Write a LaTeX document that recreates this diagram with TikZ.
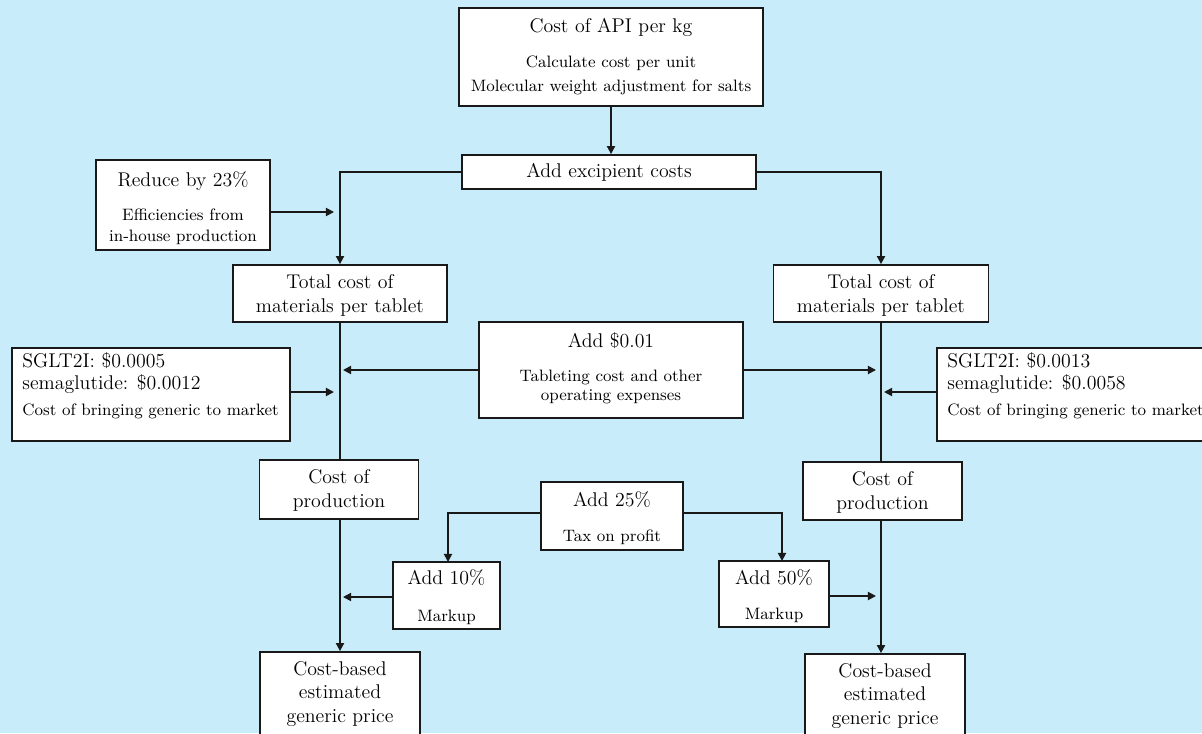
\documentclass[tikz,border=0pt]{standalone}
\usetikzlibrary{arrows.meta,calc}
\definecolor{bg}{RGB}{201,236,250}
\newcommand{\bigf}{\fontsize{11.3}{13.6}\selectfont}
\newcommand{\smf}{\fontsize{9.4}{13.6}\selectfont}
\begin{document}
\begin{tikzpicture}[x=0.02cm,y=-0.02cm,
  box/.style={draw=black!90, fill=white, line width=1pt, inner sep=0pt},
  tbig/.style={inner sep=0pt, align=center, font=\bigf},
  tsm/.style={inner sep=0pt, align=center, font=\smf},
  arr/.style={line width=1pt, draw=black!90, -{Triangle[length=4.6pt,width=4.6pt]}},
  ln/.style={line width=1pt, draw=black!90}]
\fill[bg] (0,0) rectangle (1202,733);
\useasboundingbox (0,0) rectangle (1202,733);
% boxes
\node[box, minimum width=6.08cm, minimum height=1.96cm] (api) at (611,57) {};
\node[box, minimum width=5.88cm, minimum height=0.68cm] (exc) at (609,172) {};
\node[box, minimum width=3.48cm, minimum height=1.8cm] (red) at (183,205) {};
\node[box, minimum width=4.28cm, minimum height=1.14cm] (tl) at (340,293.5) {};
\node[box, minimum width=4.3cm, minimum height=1.14cm] (tr) at (881,293.5) {};
\node[box, minimum width=5.28cm, minimum height=1.92cm] (add) at (611,370) {};
\node[box, minimum width=5.56cm, minimum height=1.86cm] (sl) at (151,394.5) {};
\node[box, minimum width=5.56cm, minimum height=1.86cm] (sr) at (1076,394.5) {};
\node[box, minimum width=3.18cm, minimum height=1.18cm] (cpl) at (339,489.5) {};
\node[box, minimum width=3.18cm, minimum height=1.16cm] (cpr) at (882.5,491) {};
\node[box, minimum width=2.84cm, minimum height=1.36cm] (tax) at (612,516) {};
\node[box, minimum width=2.14cm, minimum height=1.34cm] (m10) at (446.5,595.5) {};
\node[box, minimum width=2.2cm, minimum height=1.32cm] (m50) at (774,594) {};
\node[box, minimum width=3.2cm, minimum height=1.8cm] (cbl) at (340,697) {};
\node[box, minimum width=3.2cm, minimum height=1.8cm] (cbr) at (885,699) {};
% texts
\node[tbig] (api-t) at (611,27) {Cost of API per kg};
\node[tsm] (api-s) at (611,75) {Calculate cost per unit\\Molecular weight adjustment for salts};
\node[tbig] (exc-t) at (609,172) {Add excipient costs};
\node[tbig] (red-t) at (183,181) {Reduce by 23\%};
\node[tsm, font=\fontsize{9.4}{11.9}\selectfont] (red-s) at (183,226.5) {Efficiencies from\\in-house production};
\node[tbig] (tl-t) at (340,295) {Total cost of\\materials per tablet};
\node[tbig] (tr-t) at (881,295) {Total cost of\\materials per tablet};
\node[tbig] (add-t) at (611,341) {Add \$0.01};
\node[tsm, font=\fontsize{9.4}{11.3}\selectfont] (add-s) at (611,387) {Tableting cost and other\\operating expenses};
\node[tbig, align=left, anchor=west, font=\fontsize{11.3}{12.5}\selectfont] (sl-t) at (22,373) {SGLT2I: \$0.0005\\semaglutide: \$0.0012};
\node[tsm, anchor=west] (sl-s) at (22,411) {Cost of bringing generic to market};
\node[tbig, align=left, anchor=west, font=\fontsize{11.3}{12.5}\selectfont] (sr-t) at (947,373) {SGLT2I: \$0.0013\\semaglutide: \$0.0058};
\node[tsm, anchor=west] (sr-s) at (947,411) {Cost of bringing generic to market};
\node[tbig] (cpl-t) at (339,490) {Cost of\\production};
\node[tbig] (cpr-t) at (882.5,492) {Cost of\\production};
\node[tbig] (tax-t) at (612,500) {Add 25\%};
\node[tsm] (tax-s) at (612,537) {Tax on profit};
\node[tbig] (m10-t) at (446.5,578) {Add 10\%};
\node[tsm] (m10-s) at (446.5,617) {Markup};
\node[tbig] (m50-t) at (774,578) {Add 50\%};
\node[tsm] (m50-s) at (774,615) {Markup};
\node[tbig] (cbl-t) at (340,694) {Cost-based\\estimated\\generic price};
\node[tbig] (cbr-t) at (885,696) {Cost-based\\estimated\\generic price};
% trunk coordinates
\coordinate (redT) at (334,212);
\coordinate (aL) at (343,370);
\coordinate (aR) at (876,370);
\coordinate (sLt) at (334,392);
\coordinate (sRt) at (884,392);
\coordinate (kL) at (343,597);
\coordinate (kR) at (876,596);
\coordinate (j50) at (782,561);
\coordinate (j10) at (448,562);
% connectors
\draw[arr] (api.south) -- (api.south |- exc.north);
\draw[arr] (exc.west) -| (tl.north);
\draw[arr] (exc.east) -| (tr.north);
\draw[arr] (red.east |- redT) -- (redT);
\draw[ln] (tl.south) -- (tl.south |- cpl.north);
\draw[ln] (tr.south) -- (tr.south |- cpr.north);
\draw[arr] (add.west) -- (aL);
\draw[arr] (add.east) -- (aR);
\draw[arr] (sl.east |- sLt) -- (sLt);
\draw[arr] (sr.west |- sRt) -- (sRt);
\draw[arr] (tl.south |- cpl.south) -- (tl.south |- cbl.north);
\draw[arr] (tr.south |- cpr.south) -- (tr.south |- cbr.north);
\draw[arr] ($(tax.west)+(0,-3)$) -| (j10);
\draw[arr] ($(tax.east)+(0,-3)$) -| (j50);
\draw[arr] (m10.west |- kL) -- (kL);
\draw[arr] (m50.east |- kR) -- (kR);
\end{tikzpicture}
\end{document}
